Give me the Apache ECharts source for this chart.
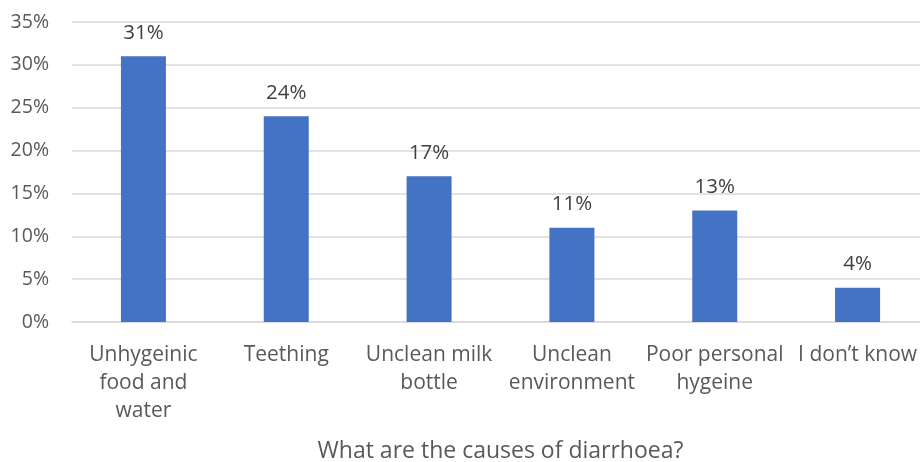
<!DOCTYPE html>
<html>
<head>
<meta charset="utf-8">
<script src="https://cdn.jsdelivr.net/npm/echarts@6/dist/echarts.min.js"></script>
<style>
  html, body { margin: 0; padding: 0; background: #fff; }
  #chart { width: 920px; height: 462px; }
</style>
</head>
<body>
<div id="chart"></div>
<script>
// Causes of diarrhoea named by respondents (share of answers, %)
const categories = [
  'Unhygeinic\nfood and\nwater',
  'Teething',
  'Unclean milk\nbottle',
  'Unclean\nenvironment',
  'Poor personal\nhygeine',
  'I don\u2019t know'
];
const shares = [31, 24, 17, 11, 13, 4];
const axisTitle = 'What are the causes of diarrhoea?';

const FONT = '"Open Sans", "Noto Sans", sans-serif';
const chart = echarts.init(document.getElementById('chart'));
chart.setOption({
  animation: false,
  textStyle: { fontFamily: FONT },
  grid: { left: 72, right: -9, top: 22, bottom: 140, outerBoundsMode: 'none', containLabel: false },
  xAxis: {
    type: 'category',
    data: categories,
    name: axisTitle,
    nameLocation: 'middle',
    nameGap: 118,
    nameTextStyle: { fontSize: 23, color: '#595959', fontFamily: FONT },
    axisLine: { show: true, lineStyle: { color: '#d9d9d9', width: 1.5 } },
    axisTick: { show: false },
    axisLabel: {
      interval: 0,
      margin: 19,
      fontSize: 21,
      lineHeight: 28,
      color: '#595959',
      fontFamily: FONT
    }
  },
  yAxis: {
    type: 'value',
    min: 0,
    max: 35,
    interval: 5,
    axisLine: { show: false },
    axisTick: { show: false },
    axisLabel: {
      formatter: '{value}%',
      fontSize: 19.5,
      margin: 23,
      color: '#595959',
      fontFamily: FONT
    },
    splitLine: { lineStyle: { color: '#d9d9d9', width: 1.5 } }
  },
  series: [{
    type: 'bar',
    data: shares,
    barWidth: 45,
    itemStyle: { color: '#4472c4' },
    label: {
      show: true,
      position: 'top',
      distance: 13,
      formatter: '{c}%',
      fontSize: 20.5,
      color: '#404040',
      fontFamily: FONT
    }
  }]
});
</script>
</body>
</html>
